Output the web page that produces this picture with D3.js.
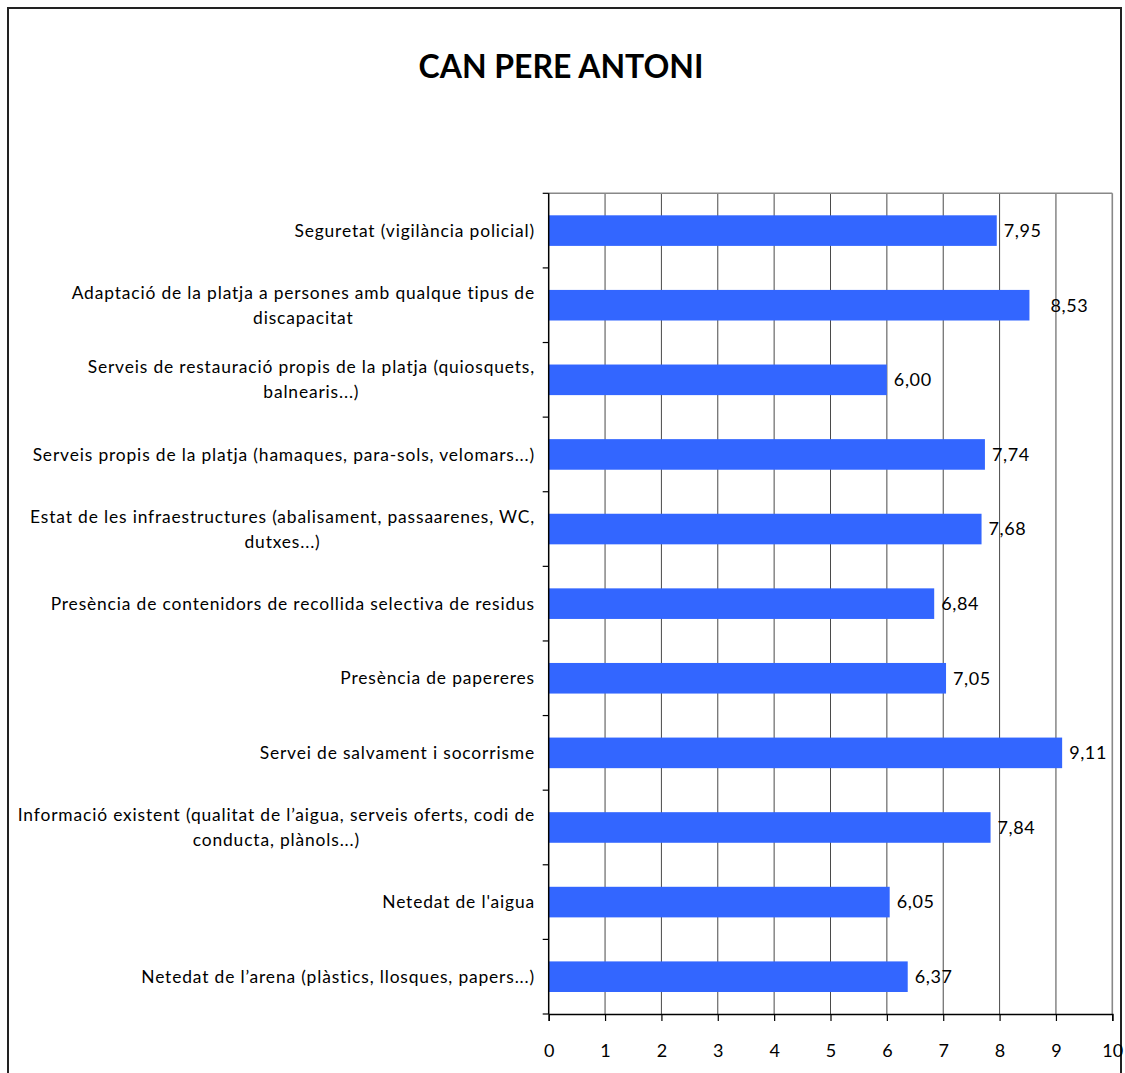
<!DOCTYPE html>
<html>
<head>
<meta charset="utf-8">
<script src="https://cdn.jsdelivr.net/npm/d3@7"></script>
<style>
  html, body { margin: 0; padding: 0; background: #fff; }
  svg { display: block; }
  text { font-family: Lato, "Open Sans", sans-serif; fill: #000; }
</style>
</head>
<body>
<svg id="chart" width="1125" height="1073"></svg>
<script>
// Survey scores per beach service, top to bottom
const categories = [
  "Seguretat (vigilància policial)",
  "Adaptació de la platja a persones amb qualque tipus de\ndiscapacitat",
  "Serveis de restauració propis de la platja (quiosquets,\nbalnearis...)",
  "Serveis propis de la platja (hamaques, para-sols, velomars...)",
  "Estat de les infraestructures (abalisament, passaarenes, WC,\ndutxes...)",
  "Presència de contenidors de recollida selectiva de residus",
  "Presència de papereres",
  "Servei de salvament i socorrisme",
  "Informació existent (qualitat de l’aigua, serveis oferts, codi de\nconducta, plànols...)",
  "Netedat de l'aigua",
  "Netedat de l’arena (plàstics, llosques, papers...)"
];
const values = [7.95, 8.53, 6.00, 7.74, 7.68, 6.84, 7.05, 9.11, 7.84, 6.05, 6.37];
const xTicks = [0, 1, 2, 3, 4, 5, 6, 7, 8, 9, 10];
const title = "CAN PERE ANTONI";

// one data label was dragged sideways in the source workbook
const labelShift = { 1: 14 };

const svg = d3.select("#chart");

// outer chart frame
svg.append("rect")
  .attr("x", 8).attr("y", 8)
  .attr("width", 1113).attr("height", 1080)
  .attr("fill", "none").attr("stroke", "#222").attr("stroke-width", 2);

svg.append("text")
  .attr("x", 561).attr("y", 78)
  .attr("text-anchor", "middle")
  .attr("font-size", 32).attr("font-weight", 700)
  .text(title);

const plot = { left: 548.7, right: 1112.3, top: 193.3, bottom: 1014 };

const x = d3.scaleLinear().domain([0, 10]).range([plot.left, plot.right]);
const y = d3.scaleBand().domain(d3.range(categories.length))
  .range([plot.top, plot.bottom]).paddingInner(0.59).paddingOuter(0.295);

// vertical gridlines
svg.append("g").selectAll("line").data(xTicks.filter(d => d > 0)).join("line")
  .attr("x1", d => x(d)).attr("x2", d => x(d))
  .attr("y1", plot.top).attr("y2", plot.bottom)
  .attr("stroke", d => d === 10 ? "#888" : "#4a4a4a")
  .attr("stroke-width", d => d === 10 ? 1.6 : 1);

// top edge of plot area
svg.append("line")
  .attr("x1", plot.left).attr("x2", plot.right)
  .attr("y1", plot.top).attr("y2", plot.top)
  .attr("stroke", "#888").attr("stroke-width", 1.6);

// bars
svg.append("g").selectAll("rect").data(values).join("rect")
  .attr("x", x(0))
  .attr("y", (d, i) => y(i))
  .attr("width", d => x(d) - x(0))
  .attr("height", y.bandwidth())
  .attr("fill", "#3366ff");

// value labels
const fmt = v => v.toFixed(2).replace(".", ",");
svg.append("g").selectAll("text").data(values).join("text")
  .attr("x", (d, i) => x(d) + 7 + (labelShift[i] || 0))
  .attr("y", (d, i) => y(i) + y.bandwidth() / 2)
  .attr("dy", "0.35em")
  .attr("font-size", 18)
  .attr("letter-spacing", 0.6)
  .text(fmt);

// category axis: line and ticks at band boundaries
const step = y.step();
const bounds = d3.range(categories.length + 1).map(i => plot.top + i * step);
svg.append("line")
  .attr("x1", plot.left).attr("x2", plot.left)
  .attr("y1", plot.top).attr("y2", plot.bottom)
  .attr("stroke", "#000").attr("stroke-width", 1.5);
svg.append("g").selectAll("line").data(bounds).join("line")
  .attr("x1", plot.left - 6).attr("x2", plot.left)
  .attr("y1", d => d).attr("y2", d => d)
  .attr("stroke", "#000").attr("stroke-width", 1.2);

// category labels (right aligned block, lines centred within it)
const labelG = svg.append("g");
categories.forEach((c, i) => {
  const lines = c.split("\n");
  const cy = y(i) + y.bandwidth() / 2;
  const lh = 25;
  const t = labelG.append("text")
    .attr("font-size", 17.4)
    .attr("letter-spacing", 0.85)
    .attr("text-anchor", "middle");
  lines.forEach((ln, k) => {
    t.append("tspan").attr("x", 0)
      .attr("y", cy + (k - (lines.length - 1) / 2) * lh)
      .attr("dy", "0.35em").text(ln);
  });
  const w = t.node().getBBox().width;
  t.attr("transform", `translate(${535 - w / 2},0)`);
});

// value axis at the bottom
const xAxis = d3.axisBottom(x).tickValues(xTicks).tickSize(7).tickPadding(23).tickFormat(d3.format("d"));
const ax = svg.append("g").attr("transform", `translate(0,${plot.bottom})`).call(xAxis);
ax.select(".domain").attr("stroke", "#000").attr("stroke-width", 1.5);
ax.selectAll(".tick line").attr("stroke", "#000").attr("stroke-width", 1.2);
ax.selectAll(".tick text").attr("font-size", 18).attr("font-family", "Lato, sans-serif").attr("fill", "#000");
</script>
</body>
</html>
